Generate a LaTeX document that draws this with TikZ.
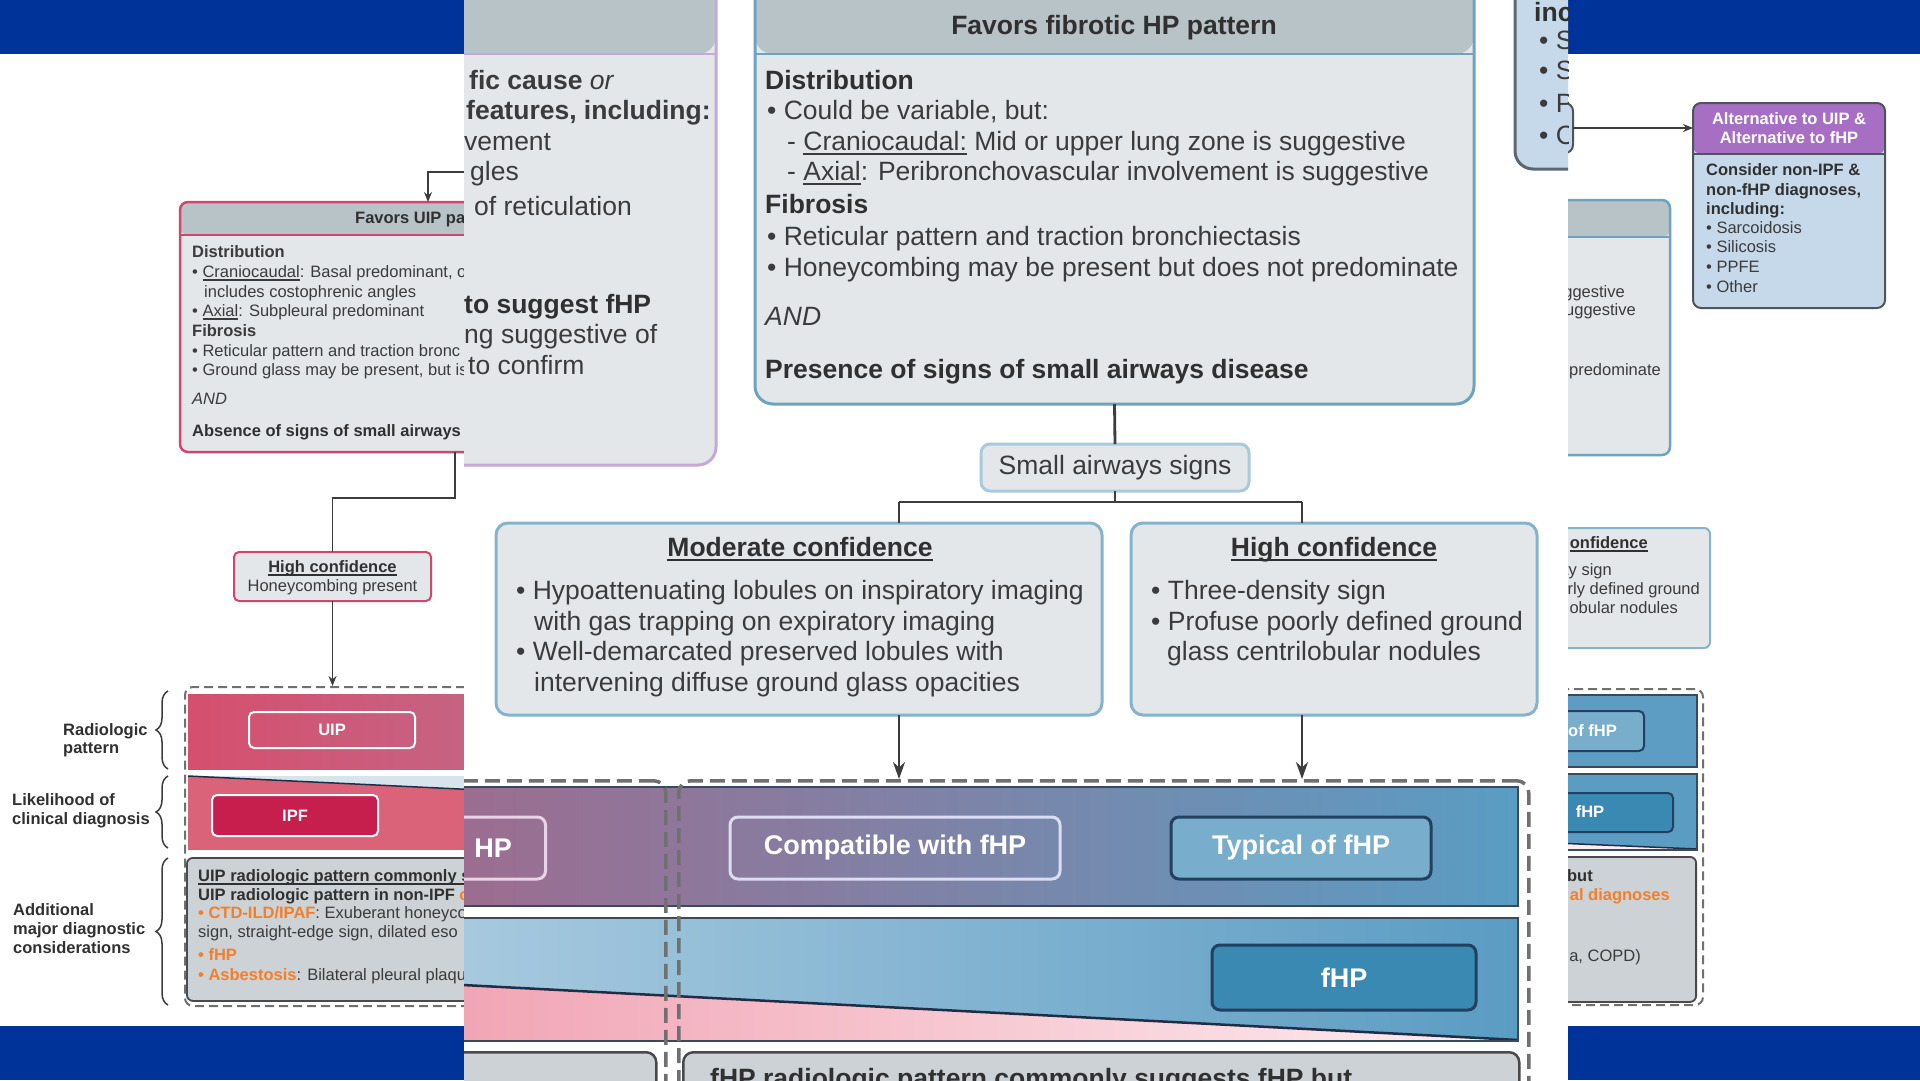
\documentclass[tikz,border=0pt]{standalone}
\usepackage{fontspec}
\setmainfont{Liberation Sans}
\usetikzlibrary{arrows.meta,decorations.pathreplacing}
\definecolor{barc}{HTML}{003399}
\definecolor{txtc}{HTML}{3B3B3B}
\definecolor{ttlc}{HTML}{303030}
\definecolor{hdrc}{HTML}{B7C3C7}
\definecolor{bodyc}{HTML}{E3E7E9}
\definecolor{bluebd}{HTML}{6EA3BF}
\definecolor{purbd}{HTML}{C7A6D8}
\definecolor{uipbd}{HTML}{D1466D}
\definecolor{cfbd}{HTML}{86B3CC}
\definecolor{sasbd}{HTML}{A9C9DC}
\definecolor{incbd}{HTML}{5C6771}
\definecolor{altbody}{HTML}{C5D9EA}
\definecolor{altbd}{HTML}{4F5459}
\definecolor{althdr}{HTML}{A66FC4}
\definecolor{navybd}{HTML}{22405F}
\definecolor{navyln}{HTML}{1F2D45}
\definecolor{bandbd}{HTML}{3A4A5E}
\definecolor{typf}{HTML}{78AECB}
\definecolor{fhpf}{HTML}{3A89B3}
\definecolor{grayc}{HTML}{CCD2D5}
\definecolor{gbd}{HTML}{4A4A4A}
\definecolor{orgc}{HTML}{F47F2A}
\definecolor{ipfc}{HTML}{C71F4D}
\definecolor{uipA}{HTML}{D54F6E}
\definecolor{uipB}{HTML}{C66383}
\definecolor{pinkL}{HTML}{DA6379}
\definecolor{wedgeL}{HTML}{D8E4EC}
\definecolor{bA}{HTML}{9D6C8F}
\definecolor{bB}{HTML}{7B88AB}
\definecolor{bC}{HTML}{5A9DC3}
\definecolor{cA}{HTML}{A8CADF}
\definecolor{cB}{HTML}{5B9CC3}
\definecolor{pkA}{HTML}{F1A4B4}
\definecolor{pkB}{HTML}{FDEEF1}
\definecolor{dashc}{HTML}{707070}
\definecolor{cmpbd}{HTML}{DCDCF2}
\definecolor{hpbd}{HTML}{E9D3E6}
\definecolor{conc}{HTML}{3D3D3D}
\definecolor{rb1}{HTML}{5E9DC3}
\definecolor{rb2}{HTML}{5B9CC2}
\newcommand\fbig{\fontsize{26.5pt}{31pt}\selectfont}
\newcommand\fsm{\fontsize{16.5pt}{19pt}\selectfont}
\newcommand\flab{\fontsize{27pt}{32pt}\selectfont\bfseries}
\newsavebox\myulbox
\newcommand\ulb[1]{\sbox\myulbox{#1}\rlap{\vrule width \wd\myulbox height -2.6pt depth 4.6pt}\usebox\myulbox}
\newcommand\uls[1]{\sbox\myulbox{#1}\rlap{\vrule width \wd\myulbox height -1.6pt depth 2.8pt}\usebox\myulbox}
\begin{document}
\begin{tikzpicture}[x=1pt,y=-1pt,
  box/.style={fill=bodyc, inner sep=0pt, outer sep=0pt},
  B/.style={font=\fbig, text=txtc, inner sep=0pt, text height=20pt, text depth=1.3pt, anchor=west},
  S/.style={font=\fsm, text=txtc, inner sep=0pt, text height=12.4pt, text depth=0.8pt, anchor=west},
  hdr/.style n args={3}{path picture={
    \fill[#3] (path picture bounding box.north west) rectangle ([yshift=-#1]path picture bounding box.north east);
    \draw[#2, line width=2.5pt] ([yshift=-#1]path picture bounding box.north west) -- ([yshift=-#1]path picture bounding box.north east);}},
  dreg/.style={draw=dashc, dash pattern=on 9pt off 5pt, line width=2pt, rounded corners=8pt, inner sep=0pt},
  dregO/.style={draw=dashc, dash pattern=on 15pt off 7pt, line width=3.5pt, rounded corners=12pt, inner sep=0pt},
  gbox/.style={fill=grayc, draw=gbd, line width=1.8pt, rounded corners=6pt, inner sep=0pt},
  csm/.style={draw=conc, line width=1.8pt},
  cbig/.style={draw=conc, line width=2.8pt},
  tipS/.style={-{Stealth[length=10pt,width=8pt]}},
  tipB/.style={-{Stealth[length=17pt,width=12pt]}},
  lbo/.style={text=white, font=\flab, line width=3pt, rounded corners=8pt, inner sep=0pt},
  lbs/.style={text=white, font=\fsm\bfseries, line width=2pt, rounded corners=5pt, inner sep=0pt},
  lab/.style={font=\fsm\bfseries, text=ttlc, inner sep=0pt, text height=12.4pt, text depth=0.8pt, anchor=west},
  brc/.style={draw=conc, line width=1.5pt, decorate, decoration={brace, amplitude=12pt}}
]
\useasboundingbox (0,0) rectangle (1920,1080);
\fill[white] (0,0) rectangle (1920,1080);
\fill[barc] (0,0) rectangle (1920,54);
\fill[barc] (0,1026) rectangle (1920,1080);

% ================= LEFT PART =================
\node[box, draw=uipbd, line width=2.5pt, rounded corners=8pt, hdr={33pt}{uipbd}{hdrc}, minimum width=340pt, minimum height=250pt, anchor=north west] (uip) at (180,202) {};
\node[S, text=ttlc] (uipT) at (355,218) {\textbf{Favors UIP pa}};
\node[S] (l1) at (192,252) {\textbf{Distribution}};
\node[S] (l2) at (192,272) {• \uls{Craniocaudal}: Basal predominant, o};
\node[S] (l3) at (204,292) {includes costophrenic angles};
\node[S] (l4) at (192,311) {• \uls{Axial}: Subpleural predominant};
\node[S] (l5) at (192,331) {\textbf{Fibrosis}};
\node[S] (l6) at (192,351) {• Reticular pattern and traction bronc};
\node[S] (l7) at (192,370) {• Ground glass may be present, but is};
\node[S] (l8) at (192,399) {\textit{AND}};
\node[S, text=ttlc] (l9) at (192,431) {\textbf{Absence of signs of small airways d}};

\coordinate (inL) at (470,172);
\coordinate (xA) at (428,0);
\coordinate (xB) at (455,0);
\coordinate (yJ) at (0,498);
\draw[csm, tipS] (inL) -| (uip.north -| xA);

\node[box, draw=uipbd, line width=2pt, rounded corners=5pt, minimum width=197pt, minimum height=49pt, anchor=north west] (hcL) at (234,552) {};
\node[S, anchor=center, text=ttlc] (hcL1) at (332.5,567) {\textbf{\uls{High confidence}}};
\node[S, anchor=center] (hcL2) at (332.5,586) {Honeycombing present};
\draw[csm] (uip.south -| xB) |- (hcL.north |- yJ) -- (hcL.north);

\shade[left color=uipA, right color=uipB] (188,694) rectangle (470,769);
\fill[pinkL] (188,776) rectangle (470,850);
\fill[wedgeL] (188,776) -- (470,789.5) -- (470,776) -- cycle;
\draw[navyln, line width=1.5pt] (188,776) -- (470,789.5);
\node[lbs, draw=white, minimum width=166pt, minimum height=36pt] (uipL) at (332,730) {UIP};
\node[lbs, draw=white, fill=ipfc, minimum width=166pt, minimum height=41pt] (ipfL) at (295,815.5) {IPF};
\node[gbox, minimum width=320pt, minimum height=143pt, anchor=north west] (g3L) at (186,857) {};
\node[S, text=ttlc] (g1) at (198,876) {\textbf{\uls{UIP radiologic pattern commonly s}}};
\node[S, text=ttlc] (g2) at (198,895) {\textbf{UIP radiologic pattern in non-IPF \textcolor{orgc}{c}}};
\node[S] (g3) at (198,913) {\textcolor{orgc}{\textbf{• CTD-ILD/IPAF}}: Exuberant honeyco};
\node[S] (g4) at (198,932) {sign, straight-edge sign, dilated eso};
\node[S] (g5) at (198,955) {\textcolor{orgc}{\textbf{• fHP}}};
\node[S] (g6) at (198,975) {\textcolor{orgc}{\textbf{• Asbestosis}}: Bilateral pleural plaque};
\node[dreg, minimum width=400pt, minimum height=319pt, anchor=north west] (dregL) at (184,686) {};
\draw[csm, tipS] (hcL.south) -- (hcL.south |- dregL.north);

\draw[brc] (168,769) -- (168,691);
\draw[brc] (168,848) -- (168,776);
\draw[brc] (168,1005) -- (168,858);
\node[lab] (r1) at (63,730) {Radiologic};
\node[lab] (r2) at (63,748) {pattern};
\node[lab] (r3) at (12,800) {Likelihood of};
\node[lab] (r4) at (12,819) {clinical diagnosis};
\node[lab] (r5) at (13,910) {Additional};
\node[lab] (r6) at (13,929) {major diagnostic};
\node[lab] (r7) at (13,948) {considerations};

% ================= RIGHT PART =================
\node[box, fill=altbody, draw=altbd, line width=2pt, rounded corners=8pt, minimum width=60pt, minimum height=50pt, anchor=north east] (srcR) at (1573,103) {};
\node[box, fill=altbody, draw=altbd, line width=2pt, rounded corners=8pt, hdr={51pt}{altbd}{althdr}, minimum width=192pt, minimum height=205pt, anchor=north west] (alt) at (1693,103) {};
\draw[csm, tipS] (srcR.east) -- (srcR.east -| alt.west);
\node[S, anchor=center, text=white] (altT1) at (1789,119) {\textbf{Alternative to UIP \&}};
\node[S, anchor=center, text=white] (altT2) at (1789,138) {\textbf{Alternative to fHP}};
\node[S, text=ttlc] (a1) at (1706,170) {\textbf{Consider non-IPF \&}};
\node[S, text=ttlc] (a2) at (1706,190) {\textbf{non-fHP diagnoses,}};
\node[S, text=ttlc] (a3) at (1706,209) {\textbf{including:}};
\node[S] (a4) at (1706,228) {• Sarcoidosis};
\node[S] (a5) at (1706,247) {• Silicosis};
\node[S] (a6) at (1706,267) {• PPFE};
\node[S] (a7) at (1706,287) {• Other};

\node[box, draw=bluebd, line width=2.5pt, rounded corners=8pt, hdr={37pt}{bluebd}{hdrc}, minimum width=220pt, minimum height=255pt, anchor=north east] (fhpR) at (1670,200) {};
\node[S, anchor=east] (f1) at (1625,292) {ggestive};
\node[S, anchor=east] (f2) at (1636,310) {uggestive};
\node[S, anchor=east] (f3) at (1661,370) {predominate};

\node[box, draw=cfbd, line width=2pt, rounded corners=6pt, minimum width=260pt, minimum height=120pt, anchor=north east] (hcR) at (1710,528) {};
\node[S, anchor=east, text=ttlc] (h1) at (1648,543) {\textbf{\uls{onfidence}}};
\node[S, anchor=east] (h2) at (1612,570) {ty sign};
\node[S, anchor=east] (h3) at (1700,589) {rly defined ground};
\node[S, anchor=east] (h4) at (1678,608) {obular nodules};

\fill[rb1] (1480,695) rectangle (1697,767);
\draw[bandbd, line width=1.5pt] (1480,695) rectangle (1697,767);
\node[lbs, fill=typf, draw=navybd, minimum width=120pt, minimum height=40pt, anchor=east] (typR) at (1645,731) {};
\node[S, anchor=east, text=white] (typRT) at (1617,731) {\textbf{of fHP}};
\fill[rb2] (1480,774) rectangle (1697,850);
\fill[pkB] (1480,839.8) -- (1697,849) -- (1697,850) -- (1480,850) -- cycle;
\draw[navyln, line width=1.5pt] (1480,839.8) -- (1697,849);
\draw[bandbd, line width=1.5pt] (1480,774) rectangle (1697,850);
\node[lbs, fill=fhpf, draw=navybd, minimum width=150pt, minimum height=39pt, anchor=east] (fhpR2) at (1674,812.5) {};
\node[S, anchor=center, text=white] (fhpR2T) at (1590,812) {\textbf{fHP}};
\node[gbox, minimum width=220pt, minimum height=145pt, anchor=north east] (g3R) at (1697,856) {};
\node[S, anchor=east, text=ttlc] (k1) at (1593,876) {\textbf{but}};
\node[S, anchor=east] (k2) at (1670,895) {\textcolor{orgc}{\textbf{al diagnoses}}};
\node[S, anchor=east] (k3) at (1641,956) {a, COPD)};
\node[dreg, minimum width=300pt, minimum height=316pt, anchor=north east] (dregR) at (1704,688) {};

% ================= CENTER OVERLAY =================
\fill[white] (464,0) rectangle (1568,1080);
\begin{scope}
\clip (464,0) rectangle (1568,1080);
\node[box, draw=purbd, line width=3pt, rounded corners=18pt, hdr={74pt}{purbd}{hdrc}, minimum width=296pt, minimum height=485pt, anchor=north west] (indet) at (420,-20) {};
\node[B] (i1) at (469,80) {\textbf{fic cause} \textit{or}};
\node[B] (i2) at (466,110) {\textbf{features, including:}};
\node[B] (i3) at (464,141) {vement};
\node[B] (i4) at (470,171) {gles};
\node[B] (i5) at (474,206) {of reticulation};
\node[B, text=ttlc] (i6) at (464,304) {\textbf{to suggest fHP}};
\node[B] (i7) at (464,334) {ng suggestive of};
\node[B] (i8) at (468,365) {to confirm};

\node[box, draw=bluebd, line width=3pt, rounded corners=18pt, hdr={74pt}{bluebd}{hdrc}, minimum width=719pt, minimum height=424pt, anchor=north west] (fhp) at (755,-20) {};
\node[B, anchor=center, text=ttlc] (fT) at (1114,25) {\textbf{Favors fibrotic HP pattern}};
\node[B, text=ttlc] (c1) at (765,80) {\textbf{Distribution}};
\node[B] (c2) at (767,110) {• Could be variable, but:};
\node[B] (c3) at (787,141) {- \ulb{Craniocaudal:} Mid or upper lung zone is suggestive};
\node[B] (c4) at (787,171) {- \ulb{Axial}: Peribronchovascular involvement is suggestive};
\node[B, text=ttlc] (c5) at (765,204) {\textbf{Fibrosis}};
\node[B] (c6) at (767,236) {• Reticular pattern and traction bronchiectasis};
\node[B] (c7) at (767,267) {• Honeycombing may be present but does not predominate};
\node[B] (c8) at (765,316) {\textit{AND}};
\node[B, text=ttlc] (c9) at (765,369) {\textbf{Presence of signs of small airways disease}};

\node[box, fill=altbody, draw=incbd, line width=3pt, rounded corners=18pt, minimum width=200pt, minimum height=189pt, anchor=north west] (incb) at (1515,-20) {};
\node[B, text=ttlc] (n0) at (1534,12) {\textbf{inc}};
\node[B] (n1) at (1539,40) {• S};
\node[B] (n2) at (1539,70) {• S};
\node[B] (n3) at (1539,103) {• P};
\node[B] (n4) at (1539,135) {• C};

\node[box, draw=sasbd, line width=3pt, rounded corners=9pt, minimum width=268pt, minimum height=47pt, font=\fbig, text=txtc] (sas) at (1115,467.5) {Small airways signs};
\node[box, draw=cfbd, line width=3pt, rounded corners=12pt, minimum width=606pt, minimum height=192pt, anchor=north west] (mod) at (496,523) {};
\node[box, draw=cfbd, line width=3pt, rounded corners=12pt, minimum width=406pt, minimum height=192pt, anchor=north west] (hic) at (1131,523) {};
\node[B, anchor=center, text=ttlc] (mT) at (800,547) {\textbf{\ulb{Moderate confidence}}};
\node[B] (m1) at (516,590) {• Hypoattenuating lobules on inspiratory imaging};
\node[B] (m2) at (534,621) {with gas trapping on expiratory imaging};
\node[B] (m3) at (516,651) {• Well-demarcated preserved lobules with};
\node[B] (m4) at (534,682) {intervening diffuse ground glass opacities};
\node[B, anchor=center, text=ttlc] (hT) at (1334,547) {\textbf{\ulb{High confidence}}};
\node[B] (hh1) at (1151,590) {• Three-density sign};
\node[B] (hh2) at (1151,621) {• Profuse poorly defined ground};
\node[B] (hh3) at (1167,651) {glass centrilobular nodules};

\coordinate (b1) at (899,502);
\coordinate (b2) at (1302,502);
\draw[cbig] (fhp.south) -- (sas.north);
\draw[cbig] (sas.south) -- (sas.south |- b1);
\draw[cbig] (b1) -- (b2);
\draw[cbig] (b1) -- (mod.north -| b1);
\draw[cbig] (b2) -- (hic.north -| b2);

% bands
\shade[left color=bA, middle color=bB, right color=bC] (440,787) rectangle (1518,906);
\draw[bandbd, line width=2pt] (440,787) rectangle (1518,906);
\shade[left color=cA, right color=cB] (440,918) rectangle (1518,1041);
\shade[left color=pkA, right color=pkB] (440,983.8) -- (1518,1040) -- (1518,1041) -- (440,1041) -- cycle;
\draw[navyln, line width=2.5pt] (440,983.8) -- (1518,1040);
\draw[bandbd, line width=2pt] (440,918) rectangle (1518,1041);

\node[lbo, draw=hpbd, minimum width=160pt, minimum height=62pt, anchor=east] (hpb) at (547,848) {};
\node[B, font=\flab, text=white, anchor=east] (hpT) at (512,848) {HP};
\node[lbo, draw=cmpbd, minimum width=330pt, minimum height=62pt] (cmp) at (895,848) {Compatible with fHP};
\node[lbo, fill=typf, draw=navybd, minimum width=260pt, minimum height=62pt] (typ) at (1301,848) {Typical of fHP};
\node[lbo, fill=fhpf, draw=navybd, minimum width=264pt, minimum height=65pt] (fhpB) at (1344,977.5) {fHP};

\node[gbox, line width=2.5pt, rounded corners=10pt, minimum width=235pt, minimum height=80pt, anchor=north west] (g3A) at (420,1051) {};
\node[gbox, line width=2.5pt, rounded corners=10pt, minimum width=836pt, minimum height=80pt, anchor=north west] (g3B) at (682,1051) {};
\node[B, anchor=base west, text=ttlc] (g3T) at (710,1087) {\textbf{\ulb{fHP radiologic pattern commonly suggests fHP but}}};

\node[dregO, minimum width=244pt, minimum height=331pt, anchor=north west] (dregA) at (420,779) {};
\node[dregO, minimum width=850pt, minimum height=331pt, anchor=north west] (dregB) at (677,779) {};
\draw[cbig, tipB] (mod.south -| b1) -- (dregB.north -| b1);
\draw[cbig, tipB] (hic.south -| b2) -- (dregB.north -| b2);
\end{scope}
\end{tikzpicture}
\end{document}
